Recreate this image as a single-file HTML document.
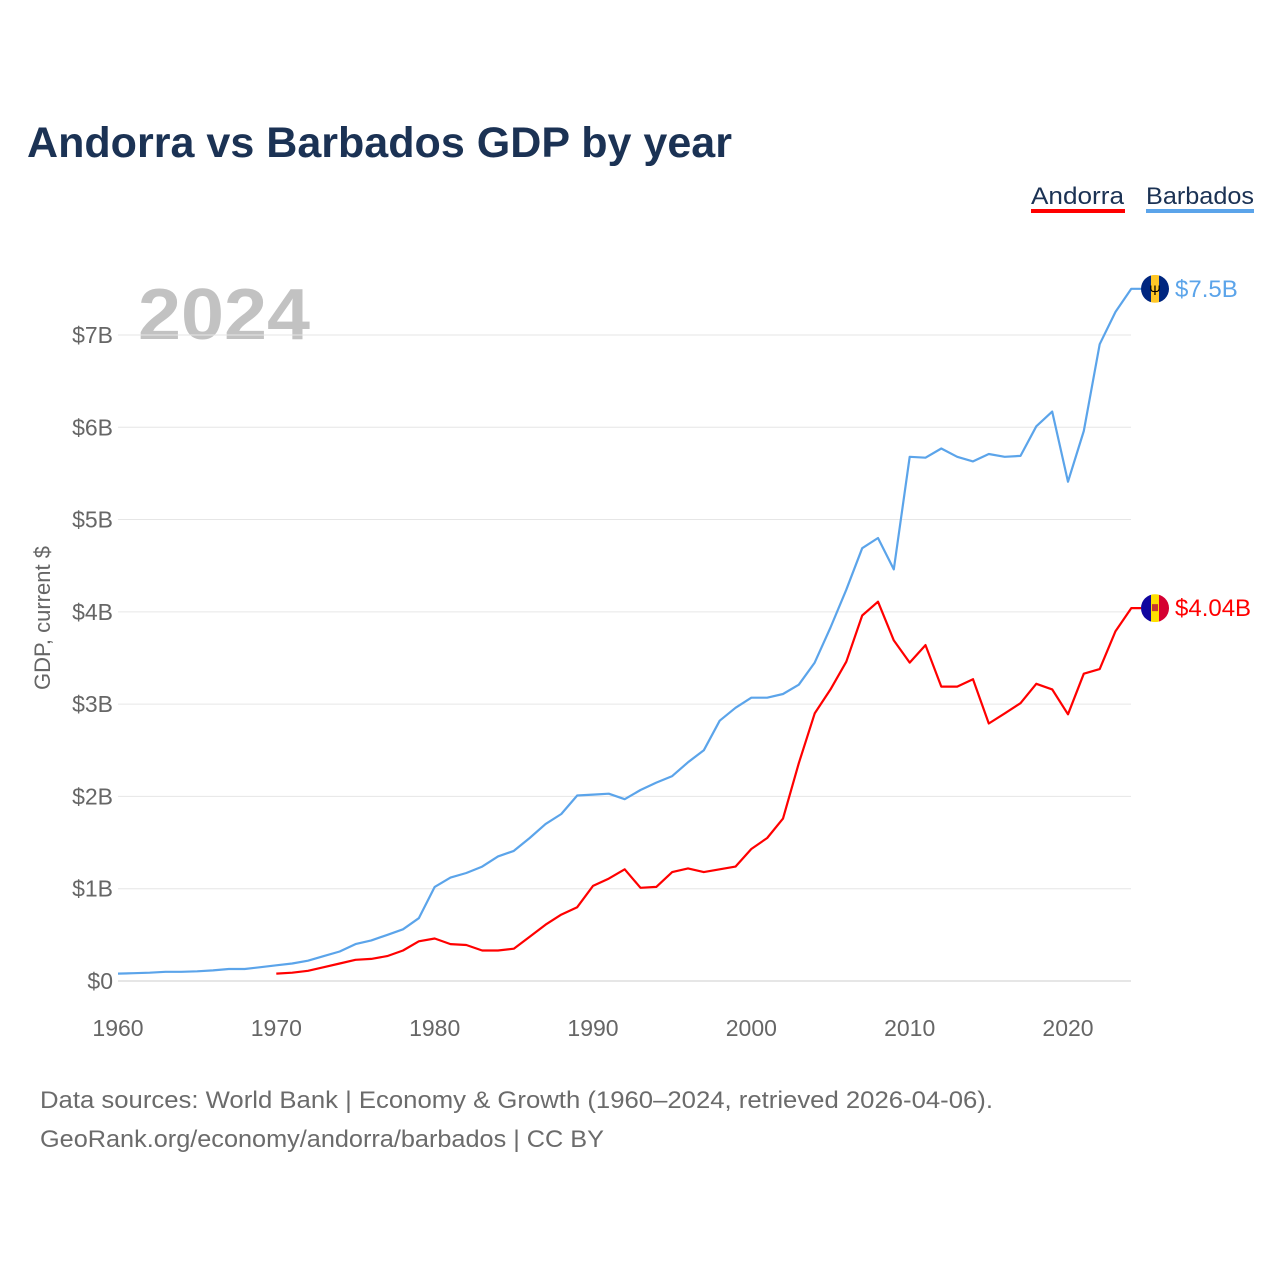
<!DOCTYPE html>
<html><head><meta charset="utf-8">
<style>
body{margin:0;background:#fff;}
svg text{font-family:"Liberation Sans",sans-serif;}
</style></head>
<body>
<svg id="chart" width="1280" height="1280" viewBox="0 0 1280 1280" xmlns="http://www.w3.org/2000/svg">
<text x="27" y="157" font-size="43" font-weight="bold" fill="#1b3254" textLength="705" lengthAdjust="spacingAndGlyphs">Andorra vs Barbados GDP by year</text>
<g>
<text x="1031" y="204" font-size="24" fill="#1b3254" textLength="93" lengthAdjust="spacingAndGlyphs">Andorra</text>
<rect x="1031" y="209" width="94" height="4" fill="#ff0000"/>
</g>
<g>
<text x="1146" y="204" font-size="24" fill="#1b3254" textLength="108" lengthAdjust="spacingAndGlyphs">Barbados</text>
<rect x="1146" y="209" width="108" height="4" fill="#5ba4ea"/>
</g>
<text x="138" y="339" font-size="72" font-weight="bold" fill="#c2c2c2" textLength="172" lengthAdjust="spacingAndGlyphs">2024</text>
<text transform="translate(50,618) rotate(-90)" text-anchor="middle" font-size="22" fill="#666">GDP, current $</text>
<g id="grid"></g><g id="yt"></g><g id="xt"></g><g id="lines"></g>
<text x="40" y="1108" font-size="24" fill="#6b6b6b" textLength="953" lengthAdjust="spacingAndGlyphs">Data sources: World Bank | Economy &amp; Growth (1960–2024, retrieved 2026-04-06).</text>
<text x="40" y="1147" font-size="24" fill="#6b6b6b" textLength="564" lengthAdjust="spacingAndGlyphs">GeoRank.org/economy/andorra/barbados | CC BY</text>
</svg>
<script>
const barbadosStart = 1960;
const barbadosValues = [0.08,0.085,0.09,0.1,0.1,0.105,0.115,0.13,0.13,0.15,0.17,0.19,0.22,0.27,0.32,0.40,0.44,0.50,0.56,0.68,1.02,1.12,1.17,1.24,1.35,1.41,1.55,1.70,1.81,2.01,2.02,2.03,1.97,2.07,2.15,2.22,2.37,2.50,2.82,2.96,3.07,3.07,3.11,3.21,3.45,3.83,4.24,4.69,4.80,4.46,5.68,5.67,5.77,5.68,5.63,5.71,5.68,5.69,6.01,6.17,5.41,5.96,6.90,7.25,7.50];
const andorraStart = 1970;
const andorraValues = [0.08,0.09,0.11,0.15,0.19,0.23,0.24,0.27,0.33,0.43,0.46,0.40,0.39,0.33,0.33,0.35,0.48,0.61,0.72,0.80,1.03,1.11,1.21,1.01,1.02,1.18,1.22,1.18,1.21,1.24,1.43,1.55,1.76,2.36,2.90,3.16,3.46,3.96,4.11,3.69,3.45,3.64,3.19,3.19,3.27,2.79,2.90,3.01,3.22,3.16,2.89,3.33,3.38,3.79,4.04];
const yTicks = [0,1,2,3,4,5,6,7];
const yTickLabels = ["$0","$1B","$2B","$3B","$4B","$5B","$6B","$7B"];
const xTicks = [1960,1970,1980,1990,2000,2010,2020];
const endLabels = ["$4.04B","$7.5B"];

const NS="http://www.w3.org/2000/svg";
const X=y=>118+(y-1960)*(950/60);
const Y=v=>981-v*92.29;
function mk(tag,attrs,parent,txt){const e=document.createElementNS(NS,tag);for(const k in attrs)e.setAttribute(k,attrs[k]);if(txt!==undefined)e.textContent=txt;document.getElementById(parent).appendChild(e);return e;}
yTicks.forEach((t,i)=>{
 const g=mk('line',{x1:118,x2:1131,y1:Y(t),y2:Y(t),stroke:t===0?'#cccccc':'#e6e6e6','stroke-width':1},'grid');
 
 
 const l=mk('text',{x:113,y:Y(t)+8,'text-anchor':'end','font-size':23,fill:'#666'},'yt',yTickLabels[i]);
 
 
});
xTicks.forEach(t=>{
 const l=mk('text',{x:X(t),y:1036,'text-anchor':'middle','font-size':23,fill:'#666'},'xt',String(t));
 
 
});
function series(vals,start,color,name,label,flag){
 const pts=vals.map((v,i)=>X(start+i).toFixed(1)+','+Y(v).toFixed(1));
 const last=vals[vals.length-1];
 pts.push('1141,'+Y(last).toFixed(1));
 const p=mk('polyline',{points:pts.join(' '),fill:'none',stroke:color,'stroke-width':2.2,'stroke-linejoin':'round'},'lines');
 
 
 const cy=Y(last);
 const g=mk('g',{},'lines');
 
 
 g.innerHTML=flag(1155,cy);
 const t=mk('text',{x:1175,y:cy+8,'font-size':24,fill:color},'lines',label);
 
 
}
const bbFlag=(cx,cy)=>`<clipPath id="cb"><circle cx="${cx}" cy="${cy}" r="14"/></clipPath><g clip-path="url(#cb)"><rect x="${cx-14}" y="${cy-14}" width="10" height="28" fill="#00267f"/><rect x="${cx-4}" y="${cy-14}" width="8" height="28" fill="#ffc726"/><rect x="${cx+4}" y="${cy-14}" width="10" height="28" fill="#00267f"/><text x="${cx}" y="${cy+6}" text-anchor="middle" font-size="14" fill="#000">Ψ</text></g>`;
const adFlag=(cx,cy)=>`<clipPath id="ca"><circle cx="${cx}" cy="${cy}" r="14"/></clipPath><g clip-path="url(#ca)"><rect x="${cx-14}" y="${cy-14}" width="10" height="28" fill="#10069f"/><rect x="${cx-4}" y="${cy-14}" width="8" height="28" fill="#fedf00"/><rect x="${cx+4}" y="${cy-14}" width="10" height="28" fill="#d50032"/><rect x="${cx-3}" y="${cy-4}" width="6" height="7" fill="#c7362f"/></g>`;
series(andorraValues,andorraStart,'#ff0000','andorra',endLabels[0],adFlag);
series(barbadosValues,barbadosStart,'#5ba4ea','barbados',endLabels[1],bbFlag);
</script>
</body></html>
